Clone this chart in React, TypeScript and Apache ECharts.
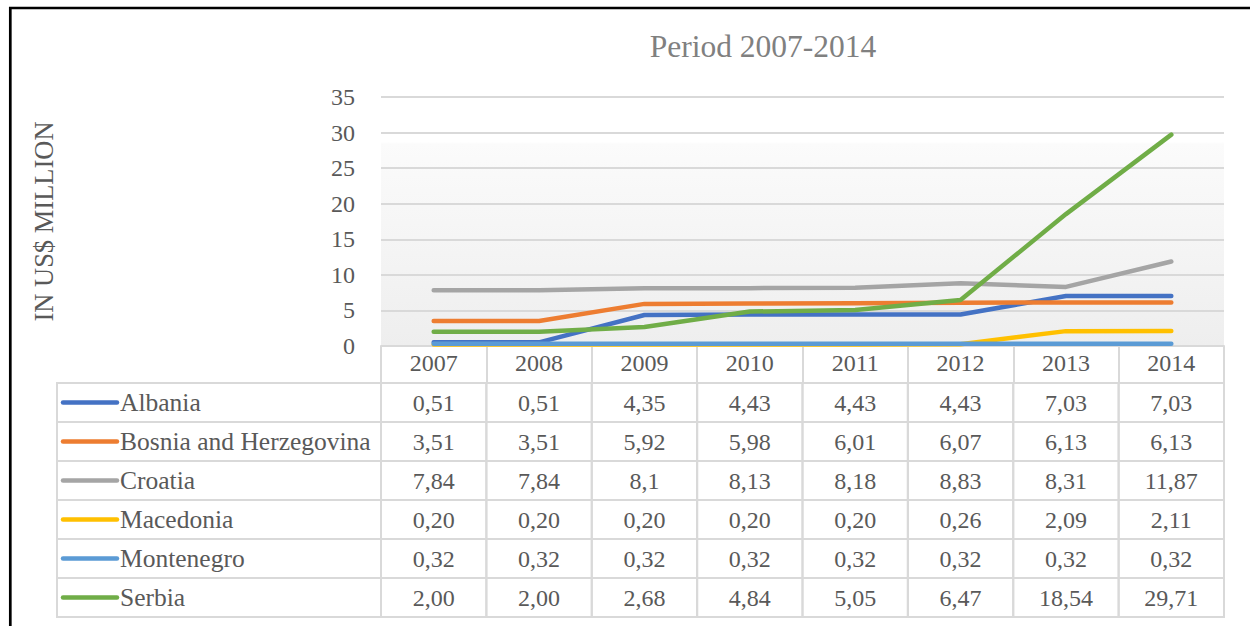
import React, { useEffect, useRef } from "react";
import * as echarts from "echarts";

const years = ["2007", "2008", "2009", "2010", "2011", "2012", "2013", "2014"];
const countries = ["Albania", "Bosnia and Herzegovina", "Croatia", "Macedonia", "Montenegro", "Serbia"];
const colors = ["#4472C4", "#ED7D31", "#A5A5A5", "#FFC000", "#5B9BD5", "#70AD47"];

// table texts as printed (decimal comma); numeric series are derived from them
const albania = ["0,51", "0,51", "4,35", "4,43", "4,43", "4,43", "7,03", "7,03"];
const bosnia = ["3,51", "3,51", "5,92", "5,98", "6,01", "6,07", "6,13", "6,13"];
const croatia = ["7,84", "7,84", "8,1", "8,13", "8,18", "8,83", "8,31", "11,87"];
const macedonia = ["0,20", "0,20", "0,20", "0,20", "0,20", "0,26", "2,09", "2,11"];
const montenegro = ["0,32", "0,32", "0,32", "0,32", "0,32", "0,32", "0,32", "0,32"];
const serbia = ["2,00", "2,00", "2,68", "4,84", "5,05", "6,47", "18,54", "29,71"];

const yMin = 0;
const yMax = 35;
const yInterval = 5;

const title = "Period 2007-2014";
const yName = "IN US$ MILLION";

const rows = [albania, bosnia, croatia, macedonia, montenegro, serbia];
const toNum = (s: string) => parseFloat(s.replace(",", "."));

const FONT = "Liberation Serif";
const TEXT = "#595959";
const GRIDLINE = "#d9d9d9";

export default function App() {
  const ref = useRef<HTMLDivElement>(null);

  useEffect(() => {
    if (!ref.current) return;
    const chart = echarts.init(ref.current, null, { renderer: "svg" });

    const legendW = 324;

    const cellData: number[][] = [];
    rows.forEach((r, i) => r.forEach((_, j) => cellData.push([j, i])));

    const option: any = {
      animation: false,
      backgroundColor: "#ffffff",
      title: {
        text: title,
        left: 763,
        textAlign: "center",
        top: 30,
        padding: 0,
        textStyle: { fontFamily: FONT, fontSize: 31.5, fontWeight: "normal", color: "#808080" },
      },
      graphic: [
        {
          type: "rect",
          shape: { x: 10.3, y: 8, width: 1400, height: 800 },
          style: { fill: "none", stroke: "#000", lineWidth: 2.7 },
          silent: true,
          z: 100,
        },
      ],
      grid: [
        {
          left: 381,
          right: 26,
          top: 97,
          height: 249,
          show: true,
          borderWidth: 0,
          backgroundColor: new echarts.graphic.LinearGradient(0, 0, 0, 1, [
            { offset: 0, color: "#ffffff" },
            { offset: 0.18, color: "#ffffff" },
            { offset: 0.19, color: "#fbfbfb" },
            { offset: 1, color: "#eeeeee" },
          ]),
        },
        { left: 381, right: 26, top: 383, height: 234 },
      ],
      xAxis: [
        {
          type: "category",
          gridIndex: 0,
          data: years,
          boundaryGap: true,
          axisLine: { show: true, lineStyle: { color: GRIDLINE, width: 2 } },
          axisTick: { show: true, length: 37, interval: 0, alignWithLabel: false, lineStyle: { color: GRIDLINE, width: 2 } },
          axisLabel: { interval: 0, margin: 5, fontFamily: FONT, fontSize: 24, color: TEXT },
          splitLine: { show: false },
        },
        { type: "category", gridIndex: 1, data: years, show: false },
      ],
      yAxis: [
        {
          type: "value",
          gridIndex: 0,
          min: yMin,
          max: yMax,
          interval: yInterval,
          name: yName,
          nameLocation: "middle",
          nameGap: 324,
          nameRotate: 90,
          nameTextStyle: { fontFamily: FONT, fontSize: 26.5, color: TEXT },
          axisLine: { show: false },
          axisTick: { show: false },
          axisLabel: { margin: 26, fontFamily: FONT, fontSize: 24, color: TEXT },
          splitLine: { show: true, lineStyle: { color: GRIDLINE, width: 2 } },
        },
        { type: "category", gridIndex: 1, data: countries, inverse: true, show: false },
      ],
      series: [
        ...countries.map((name, i) => ({
          type: "line",
          name,
          xAxisIndex: 0,
          yAxisIndex: 0,
          data: rows[i].map(toNum),
          symbol: "none",
          lineStyle: { color: colors[i], width: 4.5, cap: "round", join: "round" },
          itemStyle: { color: colors[i] },
          z: 3,
        })),
        {
          type: "custom",
          xAxisIndex: 1,
          yAxisIndex: 1,
          clip: false,
          silent: true,
          data: cellData,
          renderItem: (params: any, api: any) => {
            const j = api.value(0);
            const i = api.value(1);
            const c = api.coord([j, i]);
            const s = api.size([1, 1]);
            return {
              type: "group",
              children: [
                {
                  type: "rect",
                  shape: { x: c[0] - s[0] / 2, y: c[1] - s[1] / 2, width: s[0], height: s[1] },
                  style: { fill: "none", stroke: GRIDLINE, lineWidth: 2 },
                },
                {
                  type: "text",
                  style: {
                    text: rows[i][j],
                    x: c[0],
                    y: c[1],
                    align: "center",
                    verticalAlign: "middle",
                    fontFamily: FONT,
                    fontSize: 24,
                    fill: TEXT,
                  },
                },
              ],
            };
          },
        },
        {
          type: "custom",
          xAxisIndex: 1,
          yAxisIndex: 1,
          clip: false,
          silent: true,
          data: countries.map((_, i) => [0, i]),
          renderItem: (params: any, api: any) => {
            const i = api.value(1);
            const c = api.coord([0, i]);
            const s = api.size([1, 1]);
            const right = c[0] - s[0] / 2;
            const left = right - legendW;
            return {
              type: "group",
              children: [
                {
                  type: "rect",
                  shape: { x: left, y: c[1] - s[1] / 2, width: legendW, height: s[1] },
                  style: { fill: "none", stroke: GRIDLINE, lineWidth: 2 },
                },
                {
                  type: "line",
                  shape: { x1: left + 6, y1: c[1], x2: left + 60, y2: c[1] },
                  style: { stroke: colors[i], lineWidth: 4.5, lineCap: "round" },
                },
                {
                  type: "text",
                  style: {
                    text: countries[i],
                    x: left + 63,
                    y: c[1],
                    align: "left",
                    verticalAlign: "middle",
                    fontFamily: FONT,
                    fontSize: 25.5,
                    fill: TEXT,
                  },
                },
              ],
            };
          },
        },
      ],
    };

    chart.setOption(option);
    return () => chart.dispose();
  }, []);

  return (
    <div
      ref={ref}
      style={{ position: "fixed", left: 0, top: 0, width: 1250, height: 626 }}
    />
  );
}
